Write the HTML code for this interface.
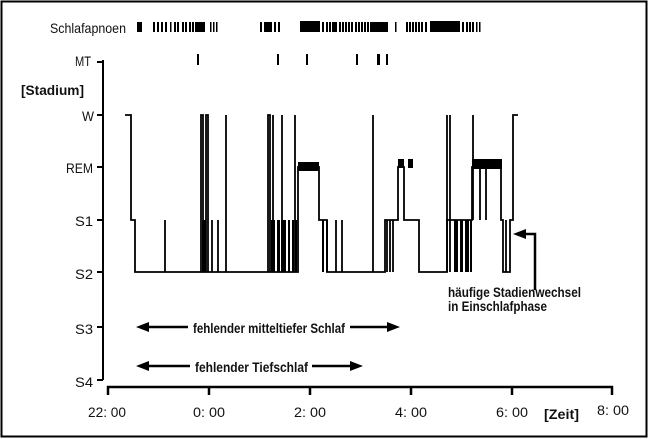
<!DOCTYPE html>
<html><head><meta charset="utf-8"><style>
html,body{margin:0;padding:0;background:#fff;}
svg{display:block}
text{font-family:"Liberation Sans",sans-serif;fill:#111}
</style></head><body>
<svg width="650" height="439" viewBox="0 0 650 439" xmlns="http://www.w3.org/2000/svg">
<rect x="1.5" y="1.5" width="645" height="435" fill="#fff" stroke="#000" stroke-width="2"/>
<g font-size="14">
<text x="50" y="33" textLength="76" lengthAdjust="spacingAndGlyphs">Schlafapnoen</text>
<text x="75" y="66" textLength="16" lengthAdjust="spacingAndGlyphs">MT</text>
<text x="21" y="95" font-weight="bold" textLength="63" lengthAdjust="spacingAndGlyphs">[Stadium]</text>
<text x="82" y="121" textLength="12" lengthAdjust="spacingAndGlyphs">W</text>
<text x="66" y="173" textLength="27" lengthAdjust="spacingAndGlyphs">REM</text>
<text x="75" y="226" textLength="18" lengthAdjust="spacingAndGlyphs">S1</text>
<text x="75" y="279" textLength="18" lengthAdjust="spacingAndGlyphs">S2</text>
<text x="75" y="334" textLength="18" lengthAdjust="spacingAndGlyphs">S3</text>
<text x="75" y="387" textLength="18" lengthAdjust="spacingAndGlyphs">S4</text>
<text x="88" y="417" textLength="38" lengthAdjust="spacingAndGlyphs">22: 00</text>
<text x="193" y="417" textLength="32" lengthAdjust="spacingAndGlyphs">0: 00</text>
<text x="294" y="417" textLength="32" lengthAdjust="spacingAndGlyphs">2: 00</text>
<text x="395" y="417" textLength="32" lengthAdjust="spacingAndGlyphs">4: 00</text>
<text x="496" y="417" textLength="32" lengthAdjust="spacingAndGlyphs">6: 00</text>
<text x="597" y="415" textLength="32" lengthAdjust="spacingAndGlyphs">8: 00</text>
<text x="544" y="419" font-weight="bold" textLength="35" lengthAdjust="spacingAndGlyphs">[Zeit]</text>
<text x="193" y="333" font-weight="bold" textLength="152" lengthAdjust="spacingAndGlyphs">fehlender mitteltiefer Schlaf</text>
<text x="195" y="372" font-weight="bold" textLength="113" lengthAdjust="spacingAndGlyphs">fehlender Tiefschlaf</text>
<text x="448" y="297" font-weight="bold" textLength="133" lengthAdjust="spacingAndGlyphs">häufige Stadienwechsel</text>
<text x="448" y="311" font-weight="bold" textLength="99" lengthAdjust="spacingAndGlyphs">in Einschlafphase</text>
</g>
<g stroke="#000" fill="none">
<path d="M103 60V380M97 62H103M97 115H103M97 167H103M97 220H103M97 272H103M97 327H103M97 380H103" stroke-width="2"/>
<path d="M108 395V387H612V395M209 387V395M310 387V395M411 387V395M512 387V395" stroke-width="2.5"/>
<path d="M145 327H188M350 327H392M145 366H190M312 366H355" stroke-width="2.5"/>
<path d="M535 290V234H522" stroke-width="2.5"/>
</g>
<g fill="#000">
<polygon points="136,327 149,322 149,332"/><polygon points="400,327 387,322 387,332"/>
<polygon points="136,366 149,361 149,371"/><polygon points="363,366 350,361 350,371"/>
<polygon points="513,234 526,229 526,239"/>
<rect x="197" y="54" width="2" height="11"/><rect x="277" y="54" width="2" height="11"/><rect x="306" y="54" width="2" height="11"/><rect x="356" y="54" width="2" height="11"/><rect x="377" y="54" width="3" height="11"/><rect x="386" y="54" width="2" height="11"/>
<g>
<rect x="137" y="22" width="5" height="10"/>
<rect x="153" y="22" width="2" height="10"/><rect x="157" y="22" width="2" height="10"/><rect x="161" y="22" width="2" height="10"/><rect x="165" y="22" width="2" height="10"/>
<rect x="170" y="22" width="1.5" height="10"/><rect x="174" y="22" width="2" height="10"/><rect x="177" y="22" width="2" height="10"/><rect x="182" y="22" width="2" height="10"/><rect x="185" y="22" width="2" height="10"/>
<rect x="189" y="22" width="2" height="10"/><rect x="192" y="22" width="2" height="10"/><rect x="195" y="22" width="10" height="10"/>
<rect x="210" y="22" width="1.5" height="10"/><rect x="213" y="22" width="1.5" height="10"/><rect x="216" y="22" width="1.5" height="10"/>
<rect x="260" y="22" width="2" height="10"/><rect x="264" y="22" width="8" height="10"/><rect x="274" y="22" width="2" height="10"/><rect x="278" y="22" width="2" height="10"/>
<rect x="300" y="21" width="20" height="11"/>
<rect x="322" y="22" width="2" height="10"/><rect x="326" y="22" width="2" height="10"/><rect x="329" y="22" width="2" height="10"/><rect x="332" y="22" width="5" height="10"/><rect x="339" y="22" width="2" height="10"/><rect x="342" y="22" width="2" height="10"/><rect x="345" y="22" width="2" height="10"/><rect x="348" y="22" width="2" height="10"/><rect x="351" y="22" width="2" height="10"/>
<rect x="355" y="22" width="2" height="10"/><rect x="358" y="22" width="2" height="10"/><rect x="361" y="22" width="2" height="10"/><rect x="364" y="22" width="2" height="10"/><rect x="367" y="22" width="2" height="10"/><rect x="370" y="22" width="18" height="10"/>
<rect x="395" y="22" width="1.5" height="10"/>
<rect x="406" y="22" width="2" height="10"/><rect x="409" y="22" width="2" height="10"/><rect x="412" y="22" width="2" height="10"/><rect x="415" y="22" width="2" height="10"/><rect x="418" y="22" width="2" height="10"/><rect x="421" y="22" width="2" height="10"/><rect x="425" y="22" width="2" height="10"/>
<rect x="430" y="21" width="30" height="11"/>
<rect x="462" y="22" width="2" height="10"/><rect x="466" y="22" width="2" height="10"/><rect x="469" y="22" width="2" height="10"/><rect x="472" y="22" width="2" height="10"/><rect x="476" y="22" width="1.5" height="10"/><rect x="479" y="22" width="1.5" height="10"/>
</g>
<rect x="298" y="162" width="21" height="9"/>
<rect x="398" y="159" width="6" height="9"/><rect x="408" y="159" width="5" height="9"/>
<rect x="472" y="159" width="30" height="10"/>
<g>
<rect x="202" y="220" width="4" height="52"/>
<rect x="271" y="220" width="4" height="52"/><rect x="277" y="220" width="3" height="52"/><rect x="281" y="220" width="5" height="52"/><rect x="288" y="220" width="2" height="52"/><rect x="292" y="220" width="2" height="52"/><rect x="295" y="220" width="2" height="52"/>
<rect x="322" y="220" width="2" height="52"/><rect x="326" y="220" width="2" height="52"/>
<rect x="454" y="220" width="4" height="52"/><rect x="460" y="220" width="3" height="52"/><rect x="465" y="220" width="4" height="52"/><rect x="470" y="220" width="2" height="52"/>
</g>
</g>
<g stroke="#000" fill="none" stroke-width="1.8">
<path d="M125 115H131V220H135V272H298V167H319V220H327V272H385V220H398V167H404V220H419V272H447V220H472V167H501V220H503V272H510V220H513V115H518"/>
<path d="M165 272V220M201 272V115H203V272M206 272V115H208V272M212 272V220M218 272V220M226 272V115M268 272V115H270V272M273 272V115M282 272V115M295 272V115M336 272V220M342 272V220M373 272V115M387 272V220M390 272V220M393 272V220M447 272V115M450 272V115M473 220V115M480 167V220M486 167V220M506 272V220"/>
</g>
</svg>
</body></html>
